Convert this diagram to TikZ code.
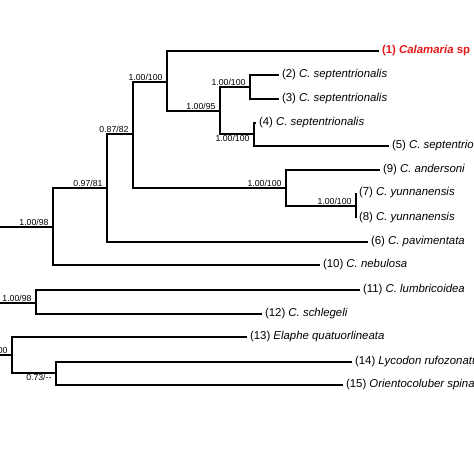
\documentclass[tikz,border=0pt]{standalone}
\usepackage{fontspec}
\setmainfont{Liberation Sans}
\definecolor{calred}{RGB}{228,24,24}
\begin{document}
\begin{tikzpicture}[x=1pt,y=-1pt,line width=1.1pt,
  tip/.style={anchor=west, inner sep=2.5pt, font=\fontsize{11.4}{13}\selectfont},
  supp/.style={inner sep=1pt, xshift=-3pt, font=\fontsize{8.7}{10}\selectfont},
  up/.style={supp, anchor=south east},
  down/.style={supp, anchor=north east}]
\useasboundingbox (0,0) rectangle (474,474);
\clip (0,0) rectangle (474,474);
% internal nodes
\coordinate (ra) at (-10,227); \coordinate (rj) at (-10,303); \coordinate (rk) at (-10,355);
\coordinate (a) at (53,227);  \coordinate (b) at (107,188); \coordinate (c) at (133,134);
\coordinate (d) at (167,82);  \coordinate (f) at (220,111); \coordinate (g) at (250,87);
\coordinate (h) at (254,134); \coordinate (e) at (286,188); \coordinate (i) at (356,206);
\coordinate (j) at (36,303);  \coordinate (k) at (12,355);  \coordinate (l) at (56,373);
% tips
\node[tip, text=calred, font=\fontsize{11.4}{13}\selectfont\bfseries] (t1) at (379,51) {(1) \textit{Calamaria} sp};
\node[tip] (t2) at (279,75) {(2) \textit{C. septentrionalis}};
\node[tip] (t3) at (279,99) {(3) \textit{C. septentrionalis}};
\node[tip] (t4) at (256,123) {(4) \textit{C. septentrionalis}};
\node[tip] (t5) at (389,146) {(5) \textit{C. septentrionalis}};
\node[tip] (t9) at (380,170) {(9) \textit{C. andersoni}};
\node[tip] (t7) at (356,193) {(7) \textit{C. yunnanensis}};
\node[tip] (t8) at (356,218) {(8) \textit{C. yunnanensis}};
\node[tip] (t6) at (368,242) {(6) \textit{C. pavimentata}};
\node[tip] (t10) at (320,265) {(10) \textit{C. nebulosa}};
\node[tip] (t11) at (360,290) {(11) \textit{C. lumbricoidea}};
\node[tip] (t12) at (262,314) {(12) \textit{C. schlegeli}};
\node[tip] (t13) at (247,337) {(13) \textit{Elaphe quatuorlineata}};
\node[tip] (t14) at (352,362) {(14) \textit{Lycodon rufozonatus}};
\node[tip] (t15) at (343,385) {(15) \textit{Orientocoluber spinalis}};
% branches
\draw (ra) -- (a) (rj) -- (j) (rk) -- (k);
\draw (a) |- (b) (a) |- (t10.west);
\draw (b) |- (c) (b) |- (t6.west);
\draw (c) |- (d) (c) |- (e);
\draw (d) |- (t1.west) (d) |- (f);
\draw (f) |- (g) (f) |- (h);
\draw (g) |- (t2.west) (g) |- (t3.west);
\draw (h) |- (t4.west) (h) |- (t5.west);
\draw (e) |- (t9.west) (e) |- (i);
\draw (i) |- (t7.west) (i) |- (t8.west);
\draw (j) |- (t11.west) (j) |- (t12.west);
\draw (k) |- (t13.west) (k) |- (l);
\draw (l) |- (t14.west) (l) |- (t15.west);
% support values
\node[up] (sa) at (a) {1.00/98};
\node[up] (sb) at (b) {0.97/81};
\node[up] (sc) at (c) {0.87/82};
\node[up] (sd) at (d) {1.00/100};
\node[up] (sf) at (f) {1.00/95};
\node[up] (sg) at (g) {1.00/100};
\node[down] (sh) at (h) {1.00/100};
\node[up] (se) at (e) {1.00/100};
\node[up] (si) at (i) {1.00/100};
\node[up] (sj) at (j) {1.00/98};
\node[up] (sk) at (k) {1.00/100};
\node[down] (sl) at (l) {0.73/-{}-};
\end{tikzpicture}
\end{document}
